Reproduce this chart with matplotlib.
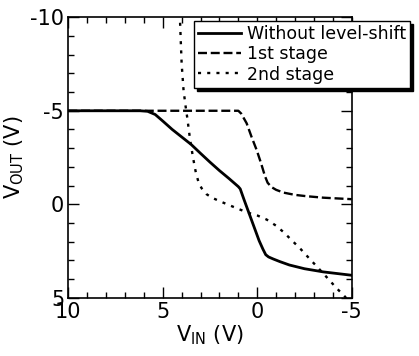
import matplotlib
matplotlib.use("Agg")
import matplotlib.pyplot as plt
from matplotlib.ticker import MultipleLocator

plt.rcParams['axes.unicode_minus'] = False

# Data
x_wo = [10, 6.2, 5.8, 5.4, 5.0, 4.5, 4.0, 3.5, 3.0, 2.5, 2.0, 1.5, 1.0, 0.9, 0.7, 0.5, 0.3, 0.1,
        -0.1, -0.3, -0.45, -0.6, -0.85, -1.2, -1.7, -2.5, -3.5, -5]
y_wo = [-5, -5, -4.97, -4.8, -4.45, -4.0, -3.6, -3.2, -2.72, -2.25, -1.8, -1.38, -0.94, -0.82,
        -0.25, 0.3, 0.85, 1.4, 1.95, 2.4, 2.7, 2.82, 2.93, 3.07, 3.25, 3.45, 3.62, 3.8]

x_1st = [10, 1.0, 0.85, 0.56, 0.3, 0.03, -0.2, -0.41, -0.55, -0.75, -1.0, -1.4, -2.0, -2.6, -3.5, -5]
y_1st = [-5, -5, -4.85, -4.33, -3.6, -2.9, -2.2, -1.5, -1.15, -0.92, -0.77, -0.62, -0.5, -0.43, -0.35, -0.27]

x_2nd = [4.1, 4.05, 4.0, 3.9, 3.8, 3.7, 3.56, 3.4, 3.25, 3.1, 2.94, 2.7, 2.4, 2.0, 1.6, 1.0, 0.5,
         0.0, -0.5, -1.0, -1.4, -1.8, -2.3, -2.8, -3.2, -3.7, -4.2, -4.64, -4.85]
y_2nd = [-10.2, -8.8, -7.5, -6.1, -5.3, -4.6, -3.5, -2.5, -1.7, -1.15, -0.85, -0.55, -0.35, -0.17,
         0.0, 0.25, 0.45, 0.6, 0.82, 1.15, 1.5, 1.9, 2.4, 2.95, 3.38, 3.93, 4.49, 4.94, 5.2]

labels = ["Without level-shift", "1st stage", "2nd stage"]
xticks = [10, 5, 0, -5]
yticks = [-10, -5, 0, 5]

fig = plt.figure(figsize=(4.19, 3.56), dpi=100)
ax = fig.add_axes([68.3/419, 1-297.7/356, (351.7-68.3)/419, (297.7-17.3)/356])

ax.plot(x_wo, y_wo, color='black', lw=2.0, label=labels[0], solid_joinstyle='round')
ax.plot(x_1st, y_1st, color='black', lw=1.7, linestyle=(0, (3.8, 1.6)), label=labels[1])
ax.plot(x_2nd, y_2nd, color='black', lw=1.7, linestyle=(0, (1.3, 2.6)), label=labels[2])

ax.set_xlim(10, -5)
ax.set_ylim(5, -10)
ax.set_xticks(xticks)
ax.set_yticks(yticks)
ax.xaxis.set_minor_locator(MultipleLocator(1))
ax.yaxis.set_minor_locator(MultipleLocator(1))
ax.tick_params(which='both', direction='in', top=True, right=True, width=1.0, color='black')
ax.tick_params(which='major', length=8, labelsize=15, pad=3)
ax.tick_params(which='minor', length=4.3)
for s in ax.spines.values():
    s.set_linewidth(1.2)

ax.set_xlabel(r'V$_{\mathregular{IN}}$ (V)', fontsize=15, labelpad=1)
ax.set_ylabel(r'V$_{\mathregular{OUT}}$ (V)', fontsize=15, labelpad=3)

leg = ax.legend(loc='upper right', bbox_to_anchor=(410/419, 1-21/356),
                bbox_transform=fig.transFigure, borderaxespad=0,
                fontsize=12.5, frameon=True, fancybox=False,
                shadow={'ox': 2.5, 'oy': -2.5, 'color': 'black', 'alpha': 1},
                handlelength=2.5, handletextpad=0.3, labelspacing=0.12,
                borderpad=0.25)
leg.get_frame().set_edgecolor('black')
leg.get_frame().set_linewidth(1.0)
leg.get_frame().set_alpha(1)

fig.savefig('out.png', dpi=100)
